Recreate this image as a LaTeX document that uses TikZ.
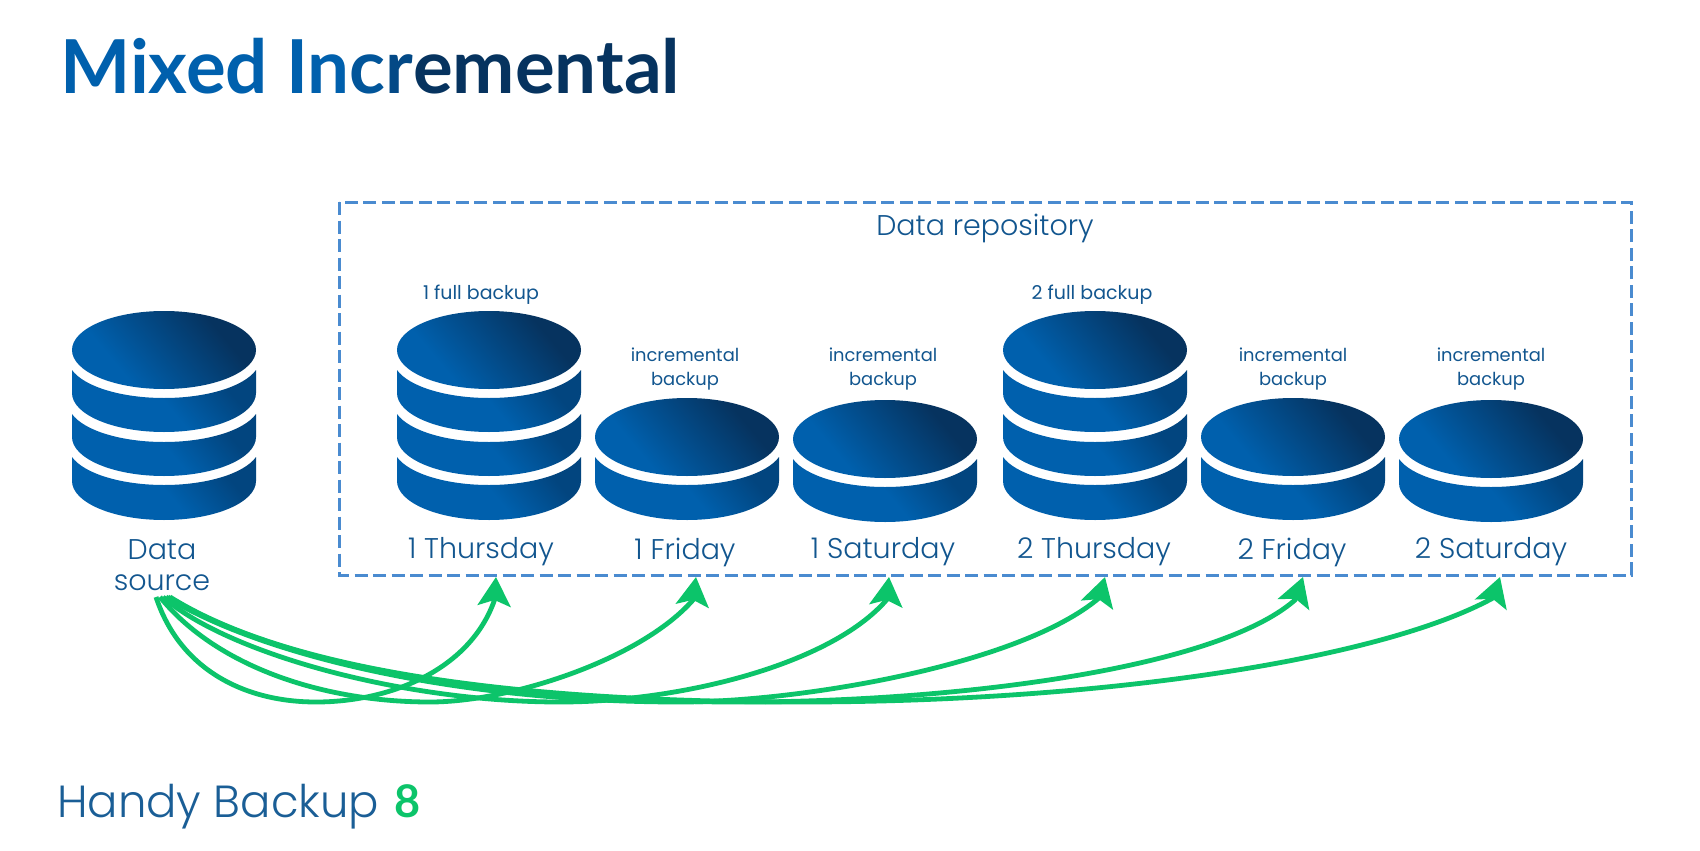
\documentclass[tikz,border=0pt]{standalone}
\usepackage{fontspec}
\setmainfont{Poppins}
\newfontfamily\lightf{Poppins Light}
\newfontfamily\boldf{Lato Bold}
\usetikzlibrary{arrows.meta}
\definecolor{bluea}{HTML}{0060AD}
\definecolor{blueb}{HTML}{06335F}
\definecolor{bluec}{HTML}{02457F}
\definecolor{txt}{HTML}{12568F}
\definecolor{dashc}{HTML}{4A8BD0}
\definecolor{arrowc}{HTML}{0CC46A}
\definecolor{hand}{HTML}{1A5E96}
\pgfdeclareverticalshading{diskshade}{100bp}{color(0bp)=(bluea);color(33bp)=(bluea);color(70bp)=(blueb);color(100bp)=(blueb)}
\pgfdeclareverticalshading{bandshade}{100bp}{color(0bp)=(bluea);color(50bp)=(bluea);color(72bp)=(bluec);color(100bp)=(bluec)}
\tikzset{
 x=1pt,y=-1pt,
 topdisk/.style={shading=diskshade,shading angle=-50,draw=none},
 band/.style={shading=bandshade,shading angle=-50,draw=none},
 day/.style={font=\fontsize{28.5}{30.5}\selectfont\lightf,text=txt,inner sep=0pt,align=center},
 small/.style={font=\fontsize{17.9}{24}\selectfont,text=txt,inner sep=0pt,align=center},
 flow/.style={draw=arrowc,line width=4.8pt,-{Stealth[length=29pt,width=33pt,inset=6pt]}},
}
% band: #1 cx, #2 y of white-gap bottom at centre, #3 y of band bottom at centre
\newcommand{\bandat}[3]{%
 \shade[band] (#1-92,{#2-28}) -- (#1-92,{#3-39})
   .. controls (#1-92,{#3-17.5}) and (#1-50.8,#3) .. (#1,#3)
   .. controls (#1+50.8,#3) and (#1+92,{#3-17.5}) .. (#1+92,{#3-39})
   -- (#1+92,{#2-28})
   .. controls (#1+80,{#2-11.3}) and (#1+42.4,#2) .. (#1,#2)
   .. controls (#1-42.4,#2) and (#1-80,{#2-11.3}) .. (#1-92,{#2-28}) -- cycle;}
\newcommand{\topat}[2]{\shade[topdisk] (#1,#2) ellipse [x radius=92,y radius=39];}
\newcommand{\bigcyl}[1]{\topat{#1}{350}\bandat{#1}{398}{432}\bandat{#1}{442}{476}\bandat{#1}{485}{520}}
\newcommand{\smallcyl}[2]{\topat{#1}{#2}\bandat{#1}{#2+48}{#2+83}}
\begin{document}
\begin{tikzpicture}
\useasboundingbox[fill=white] (0,0) rectangle (1700,851);
\node[anchor=base west,inner sep=0pt,font=\fontsize{74.4}{76}\selectfont\boldf] (title) at (60,93)
 {\textcolor{bluea}{Mixed In}\textcolor{bluea!75!blueb}{c}\textcolor{bluea!50!blueb}{r}\textcolor{blueb}{emental}};
\draw[dashc,line width=3pt,dash pattern=on 13pt off 5.5pt] (339,202) rectangle (1631,575);
\node[day] (repo) at (985,228) {Data repository};
\bigcyl{164}\bigcyl{489}\bigcyl{1095}
\smallcyl{687}{437}\smallcyl{885}{439}\smallcyl{1293}{437}\smallcyl{1491}{439}
\node[small,font=\fontsize{19}{24}\selectfont] (f1) at (481,295) {1 full backup};
\node[small,font=\fontsize{19}{24}\selectfont] (f2) at (1092,295) {2 full backup};
\node[small] (i1) at (685,369) {incremental\\backup};
\node[small] (i2) at (883,369) {incremental\\backup};
\node[small] (i3) at (1293,369) {incremental\\backup};
\node[small] (i4) at (1491,369) {incremental\\backup};
\node[day] (src) at (162,565) {Data\\source};
\node[day] (d1) at (481,552) {1 Thursday};
\node[day] (d2) at (685,552) {1 Friday};
\node[day] (d3) at (883,552) {1 Saturday};
\node[day] (d4) at (1094,552) {2 Thursday};
\node[day] (d5) at (1292,552) {2 Friday};
\node[day] (d6) at (1491,552) {2 Saturday};
\coordinate (s1) at (156,597);\coordinate (s2) at (160,597);\coordinate (s3) at (163,597);
\coordinate (s4) at (166,597);\coordinate (s5) at (168,597);\coordinate (s6) at (170,597);
\coordinate (t1) at (496,577);\coordinate (t2) at (696,577);\coordinate (t3) at (889,577);
\coordinate (t4) at (1105,577);\coordinate (t5) at (1303,577);\coordinate (t6) at (1500,577);
\coordinate (n1) at (494.5,600);\coordinate (n2) at (693,600);\coordinate (n3) at (886.5,600);
\coordinate (n4) at (1099,598);\coordinate (n5) at (1295,600);\coordinate (n6) at (1493,598);
\coordinate (b1) at (316,702);\coordinate (b2) at (430,702);\coordinate (b3) at (560,702);
\coordinate (b4) at (680,702);\coordinate (b5) at (740,702);\coordinate (b6) at (800,702);
\draw[flow] (s1) .. controls (180,670) and (245,702) .. (b1) .. controls (390,702) and (470,670) .. (n1) -- (t1);
\draw[flow] (s2) .. controls (215,665) and (320,702) .. (b2) .. controls (510,702) and (640,660) .. (n2) -- (t2);
\draw[flow] (s3) .. controls (225,652) and (400,702) .. (b3) .. controls (680,702) and (830,665) .. (n3) -- (t3);
\draw[flow] (s4) .. controls (270,660) and (470,702) .. (b4) .. controls (800,702) and (1020,665) .. (n4) -- (t4);
\draw[flow] (s5) .. controls (285,668) and (500,702) .. (b5) .. controls (950,702) and (1215,670) .. (n5) -- (t5);
\draw[flow] (s6) .. controls (290,672) and (520,702) .. (b6) .. controls (1100,702) and (1380,660) .. (n6) -- (t6);
\node[anchor=base west,inner sep=0pt,font=\fontsize{45}{47}\selectfont\lightf,text=hand] (brand) at (57,817) {Handy Backup\hspace{3pt} \textcolor{arrowc}{\boldf 8}};
\end{tikzpicture}
\end{document}
